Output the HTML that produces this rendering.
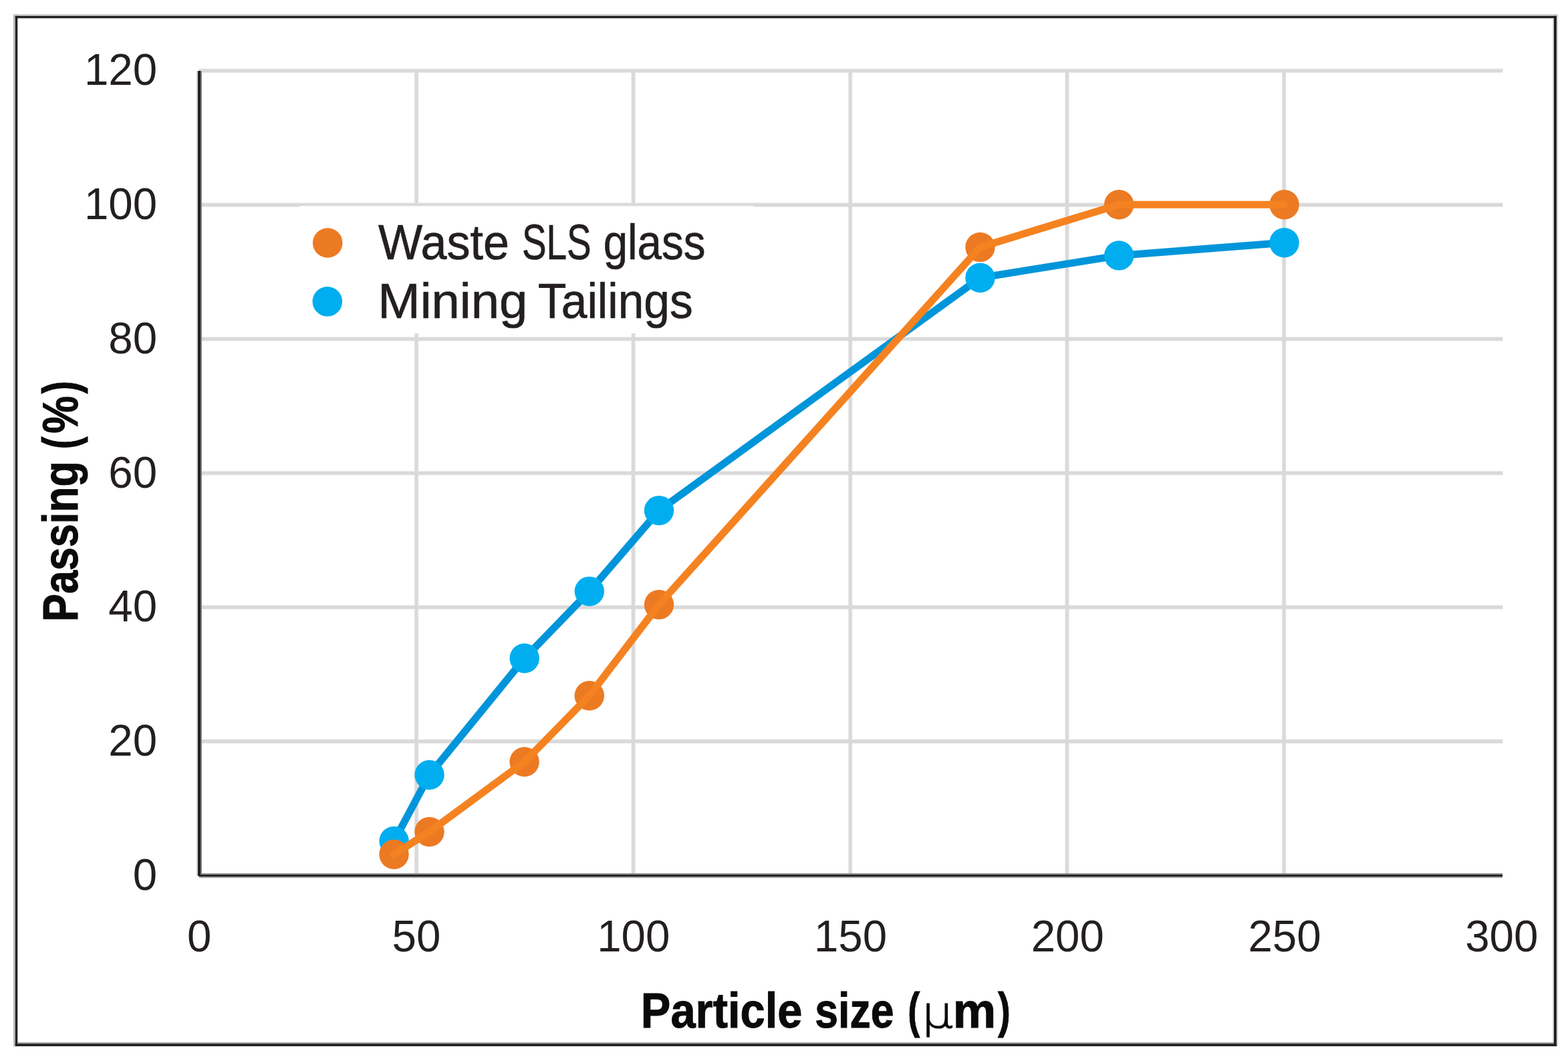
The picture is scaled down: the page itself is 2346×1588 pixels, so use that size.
<!DOCTYPE html>
<html lang="en"><head><meta charset="utf-8"><title>Particle size distribution</title>
<style>html,body{margin:0;padding:0;background:#fff}body{width:2346px;height:1588px}svg{display:block}text{font-family:"Liberation Sans",sans-serif}.tk{fill:#231f20;font-size:67.5px}.lg{fill:#231f20;stroke:#231f20;stroke-width:.7px;font-size:74px}.tt{fill:#0a0a0a;stroke:#0a0a0a;stroke-width:1px;font-size:74px;font-weight:bold}.mu{font-family:"DejaVu Sans","Liberation Sans",sans-serif;font-weight:200;font-size:66.2px;stroke-width:1.2px}</style></head><body>
<svg width="2346" height="1588" viewBox="0 0 2346 1588">
<rect width="2346" height="1588" fill="#fff"/>
<g>
<rect x="20.00" y="21.20" width="2.80" height="1544.70" fill="#b9bbbf"/>
<rect x="20.50" y="21.20" width="2310.50" height="2.60" fill="#cccdd0"/>
<rect x="26.30" y="27.10" width="2298.50" height="1.40" fill="#d6d6d8"/>
<rect x="2322.90" y="27.00" width="1.90" height="1535.00" fill="#dcdde0"/>
<rect x="2328.90" y="22.00" width="2.20" height="1543.90" fill="#d3d4d6"/>
<rect x="26.30" y="1559.90" width="2298.50" height="2.20" fill="#a3a4a7"/>
<rect x="22.80" y="23.80" width="3.50" height="1542.10" fill="#231f20"/>
<rect x="2324.80" y="23.80" width="4.10" height="1542.10" fill="#231f20"/>
<rect x="22.80" y="23.80" width="2306.10" height="3.30" fill="#231f20"/>
<rect x="22.80" y="1562.10" width="2306.10" height="3.80" fill="#231f20"/>
</g>
<g fill="none" stroke="#ededed" stroke-width="6.8">
<line x1="298" y1="1109.65" x2="2248.6" y2="1109.65"/>
<line x1="298" y1="908.90" x2="2248.6" y2="908.90"/>
<line x1="298" y1="708.15" x2="2248.6" y2="708.15"/>
<line x1="298" y1="507.40" x2="2248.6" y2="507.40"/>
<line x1="298" y1="306.65" x2="2248.6" y2="306.65"/>
<line x1="298" y1="105.90" x2="2248.6" y2="105.90"/>
<line x1="623.00" y1="106" x2="623.00" y2="1309"/>
<line x1="947.50" y1="106" x2="947.50" y2="1309"/>
<line x1="1272.20" y1="106" x2="1272.20" y2="1309"/>
<line x1="1596.50" y1="106" x2="1596.50" y2="1309"/>
<line x1="1921.10" y1="106" x2="1921.10" y2="1309"/>
</g>
<g fill="none" stroke="#d9d9d9" stroke-width="4.6">
<line x1="298" y1="1109.65" x2="2248" y2="1109.65"/>
<line x1="298" y1="908.90" x2="2248" y2="908.90"/>
<line x1="298" y1="708.15" x2="2248" y2="708.15"/>
<line x1="298" y1="507.40" x2="2248" y2="507.40"/>
<line x1="298" y1="306.65" x2="2248" y2="306.65"/>
<line x1="298" y1="105.90" x2="2248" y2="105.90"/>
<line x1="623.00" y1="106" x2="623.00" y2="1309"/>
<line x1="947.50" y1="106" x2="947.50" y2="1309"/>
<line x1="1272.20" y1="106" x2="1272.20" y2="1309"/>
<line x1="1596.50" y1="106" x2="1596.50" y2="1309"/>
<line x1="1921.10" y1="106" x2="1921.10" y2="1309"/>
</g>
<rect x="448.00" y="308.40" width="680.00" height="190.60" fill="#fff"/>
<g>
<rect x="293.90" y="106.50" width="2.10" height="1204.50" fill="#d0d2d5"/>
<rect x="300.00" y="106.50" width="2.00" height="1202.50" fill="#808388"/>
<rect x="298.00" y="1307.00" width="1950.00" height="2.10" fill="#8d8e92"/>
<rect x="298.00" y="1312.20" width="1950.00" height="2.00" fill="#adaeb1"/>
<rect x="296.00" y="106.00" width="4.00" height="1205.00" fill="#231f20"/>
<rect x="297.50" y="1309.10" width="1950.50" height="3.10" fill="#231f20"/>
</g>
<polyline points="589.6,1258.9 642.5,1159.7 784.7,985.3 881.8,885.1 986.0,764.1 1466.5,415.8 1674.2,382.4 1921.5,363.3" fill="none" stroke="#0095da" stroke-width="11" stroke-linejoin="round" stroke-linecap="round"/>
<g fill="#00aeef">
<circle cx="589.6" cy="1258.9" r="22.2"/>
<circle cx="642.5" cy="1159.7" r="22.2"/>
<circle cx="784.7" cy="985.3" r="22.2"/>
<circle cx="881.8" cy="885.1" r="22.2"/>
<circle cx="986.0" cy="764.1" r="22.2"/>
<circle cx="1466.5" cy="415.8" r="22.2"/>
<circle cx="1674.2" cy="382.4" r="22.2"/>
<circle cx="1921.5" cy="363.3" r="22.2"/>
</g>
<g fill="#ec7a23">
<circle cx="589.5" cy="1278.8" r="22.2"/>
<circle cx="642.5" cy="1245.0" r="22.2"/>
<circle cx="784.6" cy="1140.3" r="22.2"/>
<circle cx="881.8" cy="1041.2" r="22.2"/>
<circle cx="986.0" cy="904.9" r="22.2"/>
<circle cx="1466.5" cy="369.9" r="22.2"/>
<circle cx="1674.2" cy="306.3" r="22.2"/>
<circle cx="1921.5" cy="306.3" r="22.2"/>
</g>
<polyline points="589.5,1278.8 642.5,1245.0 784.6,1140.3 881.8,1041.2 986.0,904.9 1466.5,369.9 1674.2,306.3 1921.5,306.3" fill="none" stroke="#f58220" stroke-width="11" stroke-linejoin="round" stroke-linecap="round"/>
<circle cx="490.2" cy="363.5" r="22.3" fill="#ec7a23"/>
<circle cx="489.8" cy="451.3" r="22.3" fill="#00aeef"/>
<text class="lg" y="387.5"><tspan x="566.10" textLength="195.94" lengthAdjust="spacingAndGlyphs">Waste</tspan> <tspan x="780.99" textLength="103.62" lengthAdjust="spacingAndGlyphs">SLS</tspan> <tspan x="902.65" textLength="152.89" lengthAdjust="spacingAndGlyphs">glass</tspan></text>
<text class="lg" y="476.0"><tspan x="565.36" textLength="223.91" lengthAdjust="spacingAndGlyphs">Mining</tspan> <tspan x="805.12" textLength="231.55" lengthAdjust="spacingAndGlyphs">Tailings</tspan></text>
<g text-anchor="end">
<text class="tk" x="235.2" y="1331.7" textLength="36.41" lengthAdjust="spacingAndGlyphs">0</text>
<text class="tk" x="235.2" y="1131.0" textLength="72.83" lengthAdjust="spacingAndGlyphs">20</text>
<text class="tk" x="235.2" y="930.2" textLength="72.83" lengthAdjust="spacingAndGlyphs">40</text>
<text class="tk" x="235.2" y="729.5" textLength="72.83" lengthAdjust="spacingAndGlyphs">60</text>
<text class="tk" x="235.2" y="528.7" textLength="72.83" lengthAdjust="spacingAndGlyphs">80</text>
<text class="tk" x="235.2" y="327.9" textLength="109.24" lengthAdjust="spacingAndGlyphs">100</text>
<text class="tk" x="235.2" y="127.2" textLength="109.24" lengthAdjust="spacingAndGlyphs">120</text>
</g>
<g text-anchor="middle">
<text class="tk" x="298.3" y="1424.3" textLength="36.41" lengthAdjust="spacingAndGlyphs">0</text>
<text class="tk" x="623.0" y="1424.3" textLength="72.83" lengthAdjust="spacingAndGlyphs">50</text>
<text class="tk" x="947.8" y="1424.3" textLength="109.24" lengthAdjust="spacingAndGlyphs">100</text>
<text class="tk" x="1272.5" y="1424.3" textLength="109.24" lengthAdjust="spacingAndGlyphs">150</text>
<text class="tk" x="1597.3" y="1424.3" textLength="109.24" lengthAdjust="spacingAndGlyphs">200</text>
<text class="tk" x="1922.0" y="1424.3" textLength="109.24" lengthAdjust="spacingAndGlyphs">250</text>
<text class="tk" x="2246.8" y="1424.3" textLength="109.24" lengthAdjust="spacingAndGlyphs">300</text>
</g>
<text class="tt" y="1538.2"><tspan x="958.82" textLength="241.65" lengthAdjust="spacingAndGlyphs">Particle</tspan> <tspan x="1219.35" textLength="118.11" lengthAdjust="spacingAndGlyphs">size</tspan> <tspan x="1358.16" textLength="18.06" lengthAdjust="spacingAndGlyphs">(</tspan><tspan class="mu" x="1378.96" textLength="47.07" lengthAdjust="spacingAndGlyphs">μ</tspan><tspan x="1425.87" textLength="64.46" lengthAdjust="spacingAndGlyphs">m</tspan><tspan x="1493.00" textLength="18.84" lengthAdjust="spacingAndGlyphs">)</tspan></text>
<text class="tt" transform="translate(116.1 926.7) rotate(-90)" y="0"><tspan x="-3.92" textLength="240.53" lengthAdjust="spacingAndGlyphs">Passing</tspan> <tspan x="254.45" textLength="18.84" lengthAdjust="spacingAndGlyphs">(</tspan><tspan x="278.01" textLength="56.29" lengthAdjust="spacingAndGlyphs">%</tspan><tspan x="337.50" textLength="19.18" lengthAdjust="spacingAndGlyphs">)</tspan></text>
</svg></body></html>
